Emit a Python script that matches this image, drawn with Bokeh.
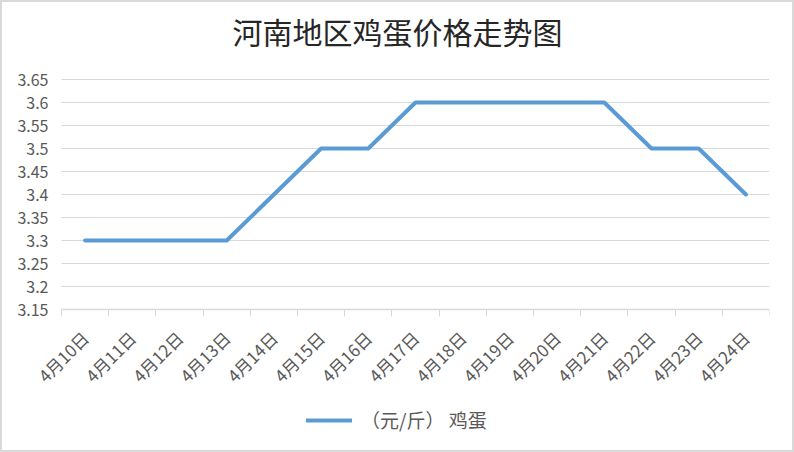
from bokeh.plotting import figure
from bokeh.models import FixedTicker, CustomJSTickFormatter, Range1d, Legend, LegendItem
from bokeh.embed import file_html
from bokeh.resources import INLINE

title_text = "河南地区鸡蛋价格走势图"
dates = ["4月10日", "4月11日", "4月12日", "4月13日", "4月14日", "4月15日", "4月16日", "4月17日",
         "4月18日", "4月19日", "4月20日", "4月21日", "4月22日", "4月23日", "4月24日"]
prices = [3.3, 3.3, 3.3, 3.3, 3.4, 3.5, 3.5, 3.6, 3.6, 3.6, 3.6, 3.6, 3.5, 3.5, 3.4]
y_ticks = [3.15, 3.2, 3.25, 3.3, 3.35, 3.4, 3.45, 3.5, 3.55, 3.6, 3.65]
series_name = "（元/斤） 鸡蛋"

n = len(dates)
xs = [i + 0.5 for i in range(n)]

FONT = "Noto Sans CJK SC"
GRAY = "#d9d9d9"
TXT = "#595959"

# layout geometry (pixels)
W, H = 794, 452
B_LEFT, B_RIGHT, B_TOP, B_BOTTOM = 6, 27, 52, 8
PLOT_W = 708           # width of the category band
PLOT_H = 230           # height of the value band (3.15 .. 3.65)
TOP_PAD = 25           # frame top -> 3.65 line
frame_w = W - B_LEFT - B_RIGHT
frame_h = H - B_TOP - B_BOTTOM
left_px = frame_w - PLOT_W
bottom_px = frame_h - PLOT_H - TOP_PAD
span = y_ticks[-1] - y_ticks[0]
x_lo = -n * left_px / PLOT_W
y_lo = y_ticks[0] - span * bottom_px / PLOT_H
y_hi = y_ticks[-1] + span * TOP_PAD / PLOT_H

p = figure(width=W, height=H, output_backend="svg", toolbar_location=None,
           x_range=Range1d(x_lo, n), y_range=Range1d(y_lo, y_hi),
           min_border_left=B_LEFT, min_border_right=B_RIGHT,
           min_border_top=B_TOP, min_border_bottom=B_BOTTOM,
           title=title_text)
p.outline_line_color = None
p.background_fill_color = "white"
p.border_fill_color = "white"

p.title.text_font = FONT
p.title.text_font_size = "30px"
p.title.text_font_style = "normal"
p.title.text_color = "#262626"
p.title.align = "left"
p.title.offset = 224
p.title.vertical_align = "top"
p.title.standoff = 0

# horizontal gridlines across the category band
gy = y_ticks[1:]
p.segment(x0=[0] * len(gy), y0=gy, x1=[n] * len(gy), y1=gy, line_color=GRAY, line_width=1)

r = p.line(xs, prices, line_color="#5b9bd5", line_width=4, line_cap="round", line_join="round")

# x axis, pinned at the bottom value of the band
xa = p.xaxis[0]
xa.fixed_location = y_ticks[0]
xa.bounds = (0, n)
xa.ticker = FixedTicker(ticks=xs, minor_ticks=list(range(n + 1)))
xa.formatter = CustomJSTickFormatter(args=dict(labels=dates),
                                     code="return labels[Math.floor(tick)];")
xa.major_tick_out = 0
xa.major_tick_in = 0
xa.minor_tick_out = 7
xa.minor_tick_in = 0
xa.minor_tick_line_color = GRAY
xa.axis_line_color = GRAY
xa.axis_line_width = 1.5
xa.major_label_orientation = 0.785398
xa.major_label_standoff = 18
xa.major_label_text_font = FONT
xa.major_label_text_font_size = "17px"
xa.major_label_text_color = TXT

# y axis, pinned at the left edge of the category band
ya = p.yaxis[0]
ya.fixed_location = 0
ya.bounds = (y_ticks[0], y_ticks[-1])
ya.ticker = FixedTicker(ticks=y_ticks)
ya.formatter = CustomJSTickFormatter(code="return String(parseFloat(tick.toFixed(2)));")
ya.axis_line_color = None
ya.major_tick_line_color = None
ya.major_tick_out = 0
ya.major_tick_in = 0
ya.minor_tick_line_color = None
ya.minor_tick_out = 0
ya.major_label_standoff = 13
ya.major_label_text_font = FONT
ya.major_label_text_font_size = "16px"
ya.major_label_text_color = TXT

p.xgrid.grid_line_color = None
p.ygrid.grid_line_color = None

legend = Legend(items=[LegendItem(label=series_name, renderers=[r])],
                location=(298, 13), orientation="horizontal",
                glyph_width=46, glyph_height=20, label_standoff=9,
                padding=0, margin=0, border_line_color=None, background_fill_alpha=0,
                label_text_font=FONT, label_text_font_size="19px", label_text_color=TXT)
p.add_layout(legend, "center")

p.styles = {"border": "2px solid #d9d9d9", "box-sizing": "border-box"}

open("out.html", "w").write(file_html(p, INLINE))
